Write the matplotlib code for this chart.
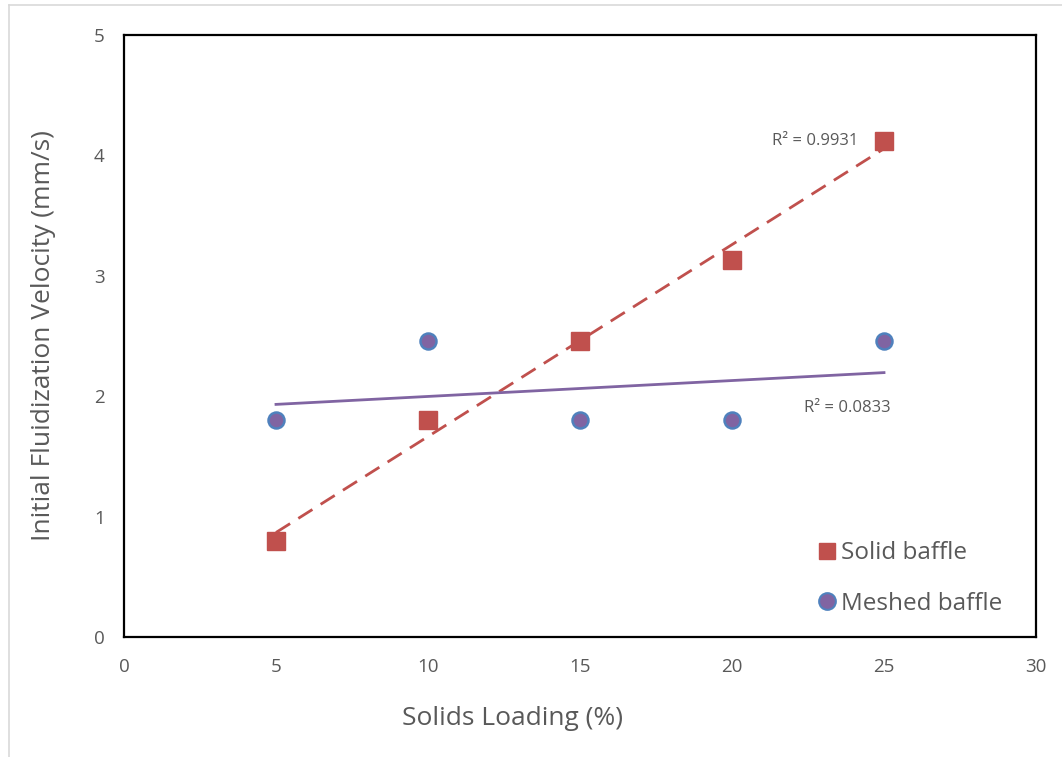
import numpy as np
import matplotlib.pyplot as plt
from matplotlib.lines import Line2D

plt.rcParams['font.family'] = ['Open Sans', 'DejaVu Sans']

# Datos de carga de sólidos y velocidad inicial de fluidización
loading = [5, 10, 15, 20, 25]
solid_vel = [0.80, 1.80, 2.46, 3.13, 4.12]
meshed_vel = [1.80, 2.46, 1.80, 1.80, 2.46]
solid_r2 = "R\u00b2 = 0.9931"
meshed_r2 = "R\u00b2 = 0.0833"

red = '#C0504D'
purple = '#8064A2'
blue = '#4F81BD'
grey = '#595959'

fig = plt.figure(figsize=(10.62, 7.57), dpi=100)
ax = fig.add_axes([124 / 1062, 1 - 637 / 757, 912 / 1062, 602 / 757])

# Líneas de tendencia lineales
x = np.array(loading)
x_line = np.array([5, 25])
p_solid = np.polyfit(x, solid_vel, 1)
p_mesh = np.polyfit(x, meshed_vel, 1)
ax.plot(x_line, np.polyval(p_solid, x_line), color=red, lw=2, ls=(0, (6, 3.5)), zorder=2)
ax.plot(x_line, np.polyval(p_mesh, x_line), color=purple, lw=2, zorder=2)

# Puntos
ax.plot(loading, solid_vel, 's', color=red, ms=12.5, zorder=3)
ax.plot(loading, meshed_vel, 'o', mfc=purple, mec=blue, mew=1.8, ms=11.5, zorder=3)

ax.text(24.15, 4.12, solid_r2, ha='right', va='center', fontsize=12, color=grey)
ax.text(23.8, 1.90, meshed_r2, ha='center', va='center', fontsize=12, color=grey)

ax.set_xlim(0, 30)
ax.set_ylim(0, 5)
ax.set_xticks(range(0, 31, 5))
ax.set_yticks(range(0, 6))
ax.tick_params(length=0, labelsize=13.5, labelcolor=grey, pad=15)
ax.tick_params(axis='y', pad=14)
for s in ax.spines.values():
    s.set_linewidth(1.6)
    s.set_color('black')

ax.set_xlabel('Solids Loading (%)', fontsize=19, color=grey)
ax.xaxis.set_label_coords((512 - 124) / 912, -0.115)
ax.set_ylabel('Initial Fluidization Velocity (mm/s)', fontsize=19, color=grey, labelpad=27)

handles = [
    Line2D([], [], ls='', marker='s', color=red, ms=12),
    Line2D([], [], ls='', marker='o', mfc=purple, mec=blue, mew=1.5, ms=12),
]
ax.legend(handles, ['Solid baffle', 'Meshed baffle'], loc='center left',
          bbox_to_anchor=(0.757, 0.097), frameon=False, fontsize=17.5,
          handletextpad=0.1, labelspacing=1.1, handlelength=1.0,
          borderpad=0, borderaxespad=0, labelcolor=grey)

# Marco gris del área del gráfico
fig.add_artist(Line2D([8.5 / 1062, 8.5 / 1062], [0, 1 - 5 / 757], color='#D9D9D9', lw=1.2))
fig.add_artist(Line2D([8.5 / 1062, 1], [1 - 5 / 757, 1 - 5 / 757], color='#D9D9D9', lw=1.2))

fig.savefig('out.png', dpi=100)
